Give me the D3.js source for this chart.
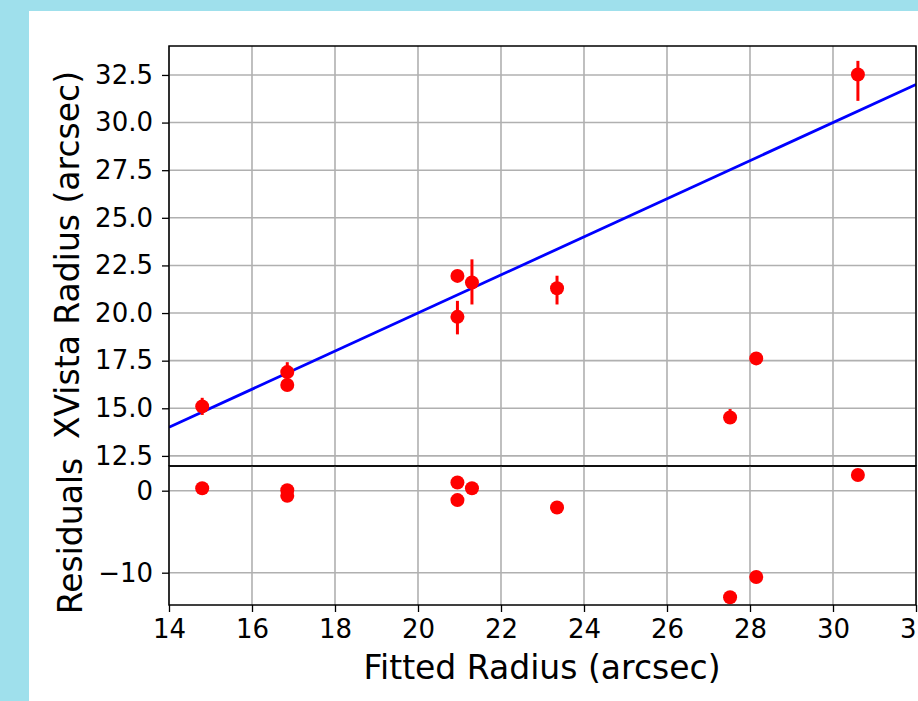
<!DOCTYPE html>
<html>
<head>
<meta charset="utf-8">
<script src="https://cdn.jsdelivr.net/npm/d3@7"></script>
<style>
  html, body { margin: 0; padding: 0; background: #9fe0ec; overflow: hidden; }
  svg { display: block; }
  text { font-family: "DejaVu Sans", sans-serif; fill: #000; }
</style>
</head>
<body>
<svg id="chart" width="918" height="701"></svg>
<script>
// Measured radii (arcsec)
const fittedRadius = [14.8, 16.85, 16.85, 20.95, 20.95, 21.3, 23.35, 27.52, 28.15, 30.6];
const xvistaRadius = [15.1, 16.9, 16.22, 21.95, 19.8, 21.6, 21.3, 14.52, 17.62, 32.52];
const errLow  = [0.45, 0.5, 0.0, 0.0, 0.92, 1.15, 0.85, 0.2, 0.0, 1.38];
const errHigh = [0.45, 0.52, 0.0, 0.0, 0.84, 1.22, 0.66, 0.44, 0.0, 0.72];
const residuals = [0.3, 0.05, -0.63, 1.0, -1.15, 0.3, -2.05, -13.0, -10.53, 1.92];

// One-to-one fit line endpoints
const fitX = [14, 32];
const fitY = [14, 32];

// Tick values
const xTicks = [14, 16, 18, 20, 22, 24, 26, 28, 30, 32];
const yTicks = [12.5, 15.0, 17.5, 20.0, 22.5, 25.0, 27.5, 30.0, 32.5];
const resTicks = [0, -10];

const svg = d3.select("#chart");

// white figure background
svg.append("rect").attr("x", 29).attr("y", 11).attr("width", 889).attr("height", 690).attr("fill", "#fff");

const left = 169, right = 916;
const topPanel = {top: 46, bottom: 466};
const botPanel = {top: 466, bottom: 605};

const x = d3.scaleLinear().domain([14, 32]).range([left, right]);
const y = d3.scaleLinear().domain([11.97, 34.02]).range([topPanel.bottom, topPanel.top]);
const yr = d3.scaleLinear().domain([-13.94, 3.01]).range([botPanel.bottom, botPanel.top]);

const gridColor = "#b0b0b0";
const tickFont = 26;
const labelFont = 33;

function grid(g, yScale, yVals, panel) {
  g.selectAll("line.vx").data(xTicks).join("line")
    .attr("x1", d => x(d)).attr("x2", d => x(d))
    .attr("y1", panel.top).attr("y2", panel.bottom)
    .attr("stroke", gridColor).attr("stroke-width", 1.6);
  g.selectAll("line.hy").data(yVals).join("line")
    .attr("x1", left).attr("x2", right)
    .attr("y1", d => yScale(d)).attr("y2", d => yScale(d))
    .attr("stroke", gridColor).attr("stroke-width", 1.6);
}

// clip paths per panel
const defs = svg.append("defs");
defs.append("clipPath").attr("id", "clipTop").append("rect")
  .attr("x", left).attr("y", topPanel.top).attr("width", right - left).attr("height", topPanel.bottom - topPanel.top);
defs.append("clipPath").attr("id", "clipBot").append("rect")
  .attr("x", left).attr("y", botPanel.top).attr("width", right - left).attr("height", botPanel.bottom - botPanel.top);

// ---- top panel ----
const gt = svg.append("g");
grid(gt.append("g"), y, yTicks, topPanel);

const plotTop = gt.append("g").attr("clip-path", "url(#clipTop)");
const line = d3.line().x(d => x(d[0])).y(d => y(d[1]));
plotTop.append("path")
  .datum(fitX.map((v, i) => [v, fitY[i]]))
  .attr("d", line).attr("fill", "none").attr("stroke", "#0000ff").attr("stroke-width", 2.8);

const pts = fittedRadius.map((v, i) => ({x: v, y: xvistaRadius[i], lo: errLow[i], hi: errHigh[i], r: residuals[i]}));
plotTop.selectAll("line.err").data(pts.filter(d => d.lo > 0 || d.hi > 0)).join("line")
  .attr("x1", d => x(d.x)).attr("x2", d => x(d.x))
  .attr("y1", d => y(d.y - d.lo)).attr("y2", d => y(d.y + d.hi))
  .attr("stroke", "#ff0000").attr("stroke-width", 3);
plotTop.selectAll("circle").data(pts).join("circle")
  .attr("cx", d => x(d.x)).attr("cy", d => y(d.y)).attr("r", 7).attr("fill", "#ff0000");

gt.append("rect").attr("x", left).attr("y", topPanel.top)
  .attr("width", right - left).attr("height", topPanel.bottom - topPanel.top)
  .attr("fill", "none").attr("stroke", "#000").attr("stroke-width", 1.5);

const yAxis = d3.axisLeft(y).tickValues(yTicks).tickSize(7).tickPadding(9).tickFormat(d3.format(".1f"));
const ya = gt.append("g").attr("transform", `translate(${left},0)`).call(yAxis);

// ---- bottom panel ----
const gb = svg.append("g");
grid(gb.append("g"), yr, resTicks, botPanel);
const plotBot = gb.append("g").attr("clip-path", "url(#clipBot)");
plotBot.selectAll("circle").data(pts).join("circle")
  .attr("cx", d => x(d.x)).attr("cy", d => yr(d.r)).attr("r", 7).attr("fill", "#ff0000");
gb.append("rect").attr("x", left).attr("y", botPanel.top)
  .attr("width", right - left).attr("height", botPanel.bottom - botPanel.top)
  .attr("fill", "none").attr("stroke", "#000").attr("stroke-width", 1.5);

const rAxis = d3.axisLeft(yr).tickValues(resTicks).tickSize(7).tickPadding(9)
  .tickFormat(d => d < 0 ? "\u2212" + Math.abs(d) : String(d));
const ra = gb.append("g").attr("transform", `translate(${left},0)`).call(rAxis);

const xAxis = d3.axisBottom(x).tickValues(xTicks).tickSize(7).tickPadding(8).tickFormat(d3.format("d"));
const xa = gb.append("g").attr("transform", `translate(0,${botPanel.bottom})`).call(xAxis);

[ya, ra, xa].forEach(a => {
  a.select(".domain").remove();
  a.selectAll(".tick line").attr("stroke", "#000").attr("stroke-width", 1.3);
  a.selectAll(".tick text").attr("font-size", tickFont).attr("font-family", "DejaVu Sans, sans-serif").attr("fill", "#000");
});

// axis titles
svg.append("text").attr("x", 542).attr("y", 679)
  .attr("text-anchor", "middle").attr("font-size", labelFont).text("Fitted Radius (arcsec)");
svg.append("text").attr("transform", `translate(79,255) rotate(-90)`)
  .attr("text-anchor", "middle").attr("font-size", labelFont).text("XVista Radius (arcsec)");
svg.append("text").attr("transform", `translate(82,536) rotate(-90)`)
  .attr("text-anchor", "middle").attr("font-size", labelFont).text("Residuals");
</script>
</body>
</html>
